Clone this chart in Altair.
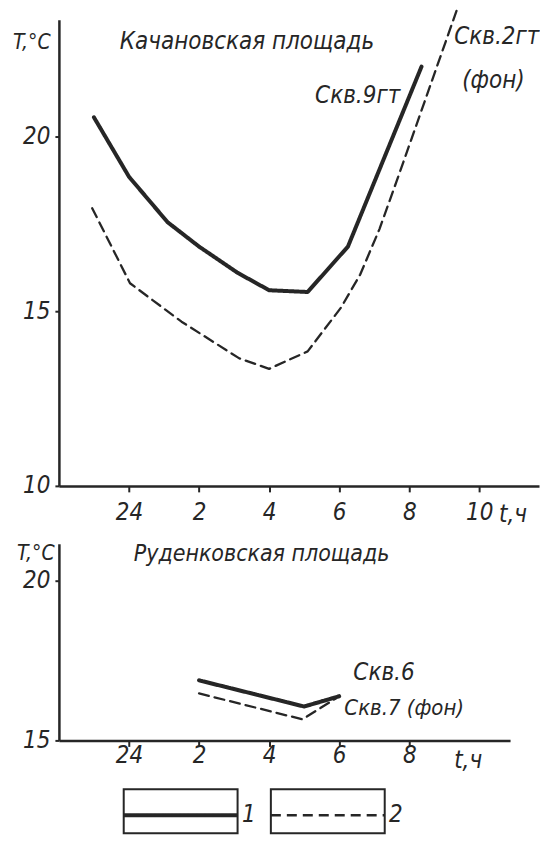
import altair as alt
import pandas as pd

# ---------------- data ----------------
# time axis: hours after midnight (0 == "24")
TOP_SOLID_T = [-1.0, 0.0, 1.1, 2.0, 3.1, 4.0, 5.1, 6.25, 8.35]
TOP_SOLID_V = [20.55, 18.85, 17.55, 16.85, 16.1, 15.6, 15.55, 16.85, 22.0]
TOP_DASH_T = [-1.05, 0.03, 1.5, 3.15, 4.0, 5.1, 6.05, 6.6, 7.15, 7.65, 9.35]
TOP_DASH_V = [17.95, 15.8, 14.7, 13.65, 13.35, 13.85, 15.1, 16.05, 17.35, 18.75, 23.6]

BOT_SOLID_T = [2.0, 5.0, 6.0]
BOT_SOLID_V = [16.88, 16.06, 16.38]
BOT_DASH_T = [2.0, 4.95, 5.9]
BOT_DASH_V = [16.47, 15.66, 16.31]

SERIES = ["1", "2"]
X_TICKS_TOP = [0, 2, 4, 6, 8, 10]
X_TICKS_BOT = [0, 2, 4, 6, 8]
Y_TICKS_TOP = [10, 15, 20]
Y_TICKS_BOT = [15, 20]

TITLE_TOP = "Качановская площадь"
TITLE_BOT = "Руденковская площадь"
Y_LABEL = "T,°C"
X_LABEL = "t,ч"
TOP_NOTES = ["Скв.9гт", "Скв.2гт", "(фон)"]
BOT_NOTES = ["Скв.6", "Скв.7 (фон)"]
LEGEND_LABELS = ["1", "2"]

# ---------------- styling / layout ----------------
FONT = "DejaVu Sans Condensed, DejaVu Sans, sans-serif"
FS = 24
INK = "#262626"
PXH = 35.1  # pixels per hour
TOP_W, TOP_H = 481, 467
BOT_W, BOT_H = 452, 197
LEG_W, LEG_H = 452, 44

top_x_dom = [-2, -2 + TOP_W / PXH]
bot_x_dom = [-2, -2 + BOT_W / PXH]
top_y_dom = [10, 10 + TOP_H / 35.0]
bot_y_dom = [15, 15 + BOT_H / 32.0]

dash_scale = alt.Scale(domain=SERIES, range=[[1, 0], [10, 6]])
width_scale = alt.Scale(domain=SERIES, range=[4, 2.3])


def frame(t1, v1, t2, v2):
    return pd.DataFrame({
        "t": t1 + t2,
        "T": v1 + v2,
        "s": [SERIES[0]] * len(t1) + [SERIES[1]] * len(t2),
    })


def annot(label, x, y, align="left", size=FS):
    return alt.Chart(pd.DataFrame({"label": [label]})).mark_text(
        align=align, baseline="middle", font=FONT, fontSize=size,
        fontStyle="italic", color=INK
    ).encode(text="label:N", x=alt.value(x), y=alt.value(y))


def panel(df, xdom, ydom, xticks, yticks, lab_pad):
    x = alt.X("t:Q", scale=alt.Scale(domain=xdom, nice=False, zero=False),
              axis=alt.Axis(values=xticks, title=None, grid=False,
                            labelExpr="datum.value == 0 ? '24' : datum.label",
                            tickSize=6, labelPadding=lab_pad))
    y = alt.Y("T:Q", scale=alt.Scale(domain=ydom, nice=False, zero=False),
              axis=alt.Axis(values=yticks, title=None, grid=False,
                            tickSize=4, labelPadding=5))
    return alt.Chart(df).mark_line(color=INK, strokeCap="round",
                                   strokeJoin="round").encode(
        x=x, y=y,
        strokeDash=alt.StrokeDash("s:N", scale=dash_scale, legend=None),
        strokeWidth=alt.StrokeWidth("s:N", scale=width_scale, legend=None),
        detail="s:N",
    )


top_df = frame(TOP_SOLID_T, TOP_SOLID_V, TOP_DASH_T, TOP_DASH_V)
bot_df = frame(BOT_SOLID_T, BOT_SOLID_V, BOT_DASH_T, BOT_DASH_V)

top = alt.layer(
    panel(top_df, top_x_dom, top_y_dom, X_TICKS_TOP, Y_TICKS_TOP, 9),
    annot(Y_LABEL, -46, 23, size=21),
    annot(TITLE_TOP, 61, 22),
    annot(TOP_NOTES[0], 342, 76, align="right"),
    annot(TOP_NOTES[1], 396, 17),
    annot(TOP_NOTES[2], 404, 61),
    annot(X_LABEL, 441, 496),
).properties(width=TOP_W, height=TOP_H)

bot = alt.layer(
    panel(bot_df, bot_x_dom, bot_y_dom, X_TICKS_BOT, Y_TICKS_BOT, -3),
    annot(Y_LABEL, -42, 10, size=21),
    annot(TITLE_BOT, 75, 10, size=23),
    annot(BOT_NOTES[0], 295, 129),
    annot(BOT_NOTES[1], 286, 165, size=22),
    annot(X_LABEL, 396, 218),
).properties(width=BOT_W, height=BOT_H)

# legend boxes laid out in code (hours units on the legend's own scale)
BOX_START, BOX_LEN, BOX_STEP = -0.15, 3.25, 4.2
leg_df = pd.DataFrame({
    "s": LEGEND_LABELS,
    "x0": [BOX_START + i * BOX_STEP for i in range(len(LEGEND_LABELS))],
})
leg_df["x1"] = leg_df["x0"] + BOX_LEN
leg_df["xl"] = leg_df["x1"] + 0.32
lx = alt.Scale(domain=bot_x_dom, nice=False, zero=False)
boxes = alt.Chart(leg_df).mark_rect(fill="white", stroke=INK, strokeWidth=2).encode(
    x=alt.X("x0:Q", scale=lx, axis=None), x2="x1:Q",
    y=alt.value(0), y2=alt.value(LEG_H))
inner = alt.Chart(leg_df).mark_rule(color=INK).encode(
    x=alt.X("x0:Q", scale=lx, axis=None), x2="x1:Q",
    y=alt.value(26),
    strokeDash=alt.StrokeDash("s:N", scale=alt.Scale(domain=SERIES, range=[[1, 0], [8, 5]]), legend=None),
    strokeWidth=alt.StrokeWidth("s:N", scale=alt.Scale(domain=SERIES, range=[3, 2]), legend=None))
nums = alt.Chart(leg_df).mark_text(align="center", baseline="middle", font=FONT,
                                   fontSize=FS, fontStyle="italic", color=INK).encode(
    x=alt.X("xl:Q", scale=lx, axis=None), y=alt.value(26), text="s:N")
legend = alt.layer(boxes, inner, nums).properties(width=LEG_W, height=LEG_H)

lower = alt.vconcat(bot, legend, spacing=49, bounds="flush")
chart = alt.vconcat(top, lower, spacing=58, bounds="flush").properties(
    padding={"left": 5, "top": 0, "right": 0, "bottom": 0}
).configure_view(stroke=None).configure_axis(
    domainColor=INK, domainWidth=2.5, tickColor=INK, tickWidth=2,
    labelFont=FONT, labelFontSize=FS, labelFontStyle="italic", labelColor=INK,
)

chart.save("out.html", embed_options={"renderer": "svg", "actions": False})
